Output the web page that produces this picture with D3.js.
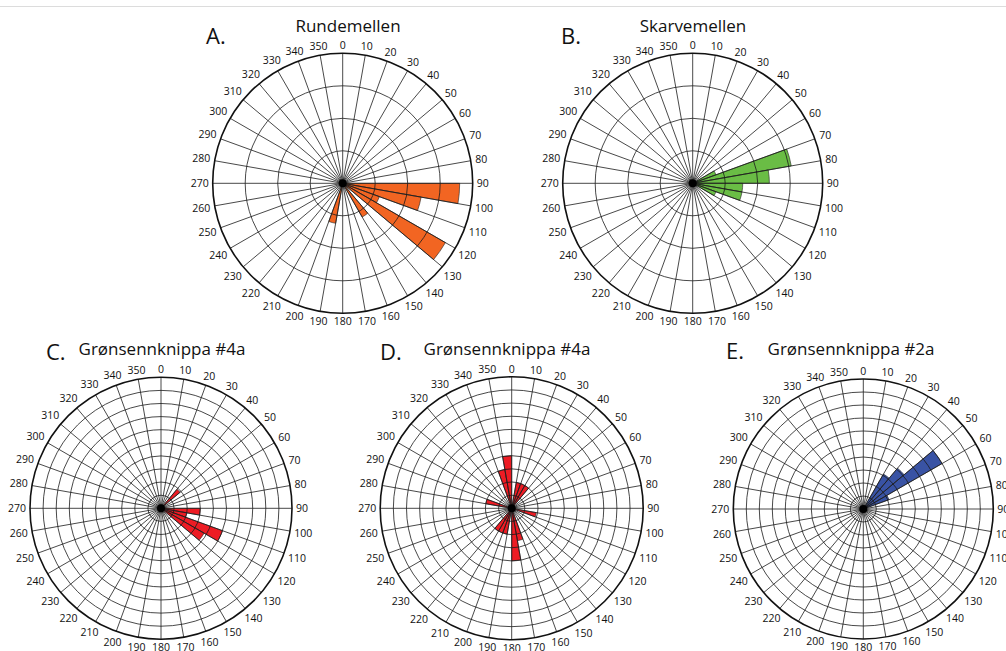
<!DOCTYPE html>
<html>
<head>
<meta charset="utf-8">
<script src="https://cdn.jsdelivr.net/npm/d3@7"></script>
<style>
  html, body { margin: 0; padding: 0; background: #fff; }
  svg { display: block; }
  text { font-family: "Open Sans", "Noto Sans", sans-serif; fill: #111; }
</style>
</head>
<body>
<svg id="chart" width="1006" height="651"></svg>
<script>
// ---------- data ----------
const titles = ["Rundemellen", "Skarvemellen", "Grønsennknippa #4a", "Grønsennknippa #4a", "Grønsennknippa #2a"];
const panelLetters = ["A.", "B.", "C.", "D.", "E."];
const ringCounts = [4, 4, 10, 10, 10];
const angleLabels = [0, 10, 20, 30, 40, 50, 60, 70, 80, 90, 100, 110, 120, 130, 140, 150, 160, 170,
                     180, 190, 200, 210, 220, 230, 240, 250, 260, 270, 280, 290, 300, 310, 320, 330, 340, 350];
const binWidth = 10;

// bin start azimuths (degrees) and bar lengths (in ring units)
const binsA = [90, 100, 110, 120, 140, 190];
const valuesA = [3.6, 2.45, 1.2, 3.65, 1.2, 1.25];
const binsB = [60, 70, 80, 90, 100, 110];
const valuesB = [0.76, 3.08, 2.36, 1.54, 1.54, 0.76];
const binsC = [40, 90, 100, 110, 120];
const valuesC = [1.9, 3, 2, 5, 3.8];
const binsD = [10, 20, 30, 100, 160, 170, 190, 200, 210, 280, 340, 350];
const valuesD = [2, 2, 2, 1.9, 2.5, 4, 2, 2, 2, 2, 3, 4];
const binsE = [30, 40, 50, 60];
const valuesE = [3.1, 4.1, 7, 2.1];

const allBins = [binsA, binsB, binsC, binsD, binsE];
const allValues = [valuesA, valuesB, valuesC, valuesD, valuesE];
const colors = ["#f26522", "#6abd45", "#ed1c24", "#ed1c24", "#3953a4"];

// ---------- layout ----------
const centers = [[342.7, 183.3], [692.7, 183.3], [161, 508.3], [511.7, 508.3], [863.3, 509]];
const radii = [130, 130, 131, 131.5, 130];
const titlePos = [[348, 32], [693, 32], [162, 355], [507, 355], [851, 355]];
const letterPos = [[206, 44], [561, 44], [46, 360], [380, 360], [726, 359]];

const svg = d3.select("#chart");
svg.append("rect").attr("width", 1006).attr("height", 651).attr("fill", "#fff");
svg.append("line").attr("x1", 0).attr("x2", 1006).attr("y1", 6.5).attr("y2", 6.5)
   .attr("stroke", "#dcdcdc").attr("stroke-width", 1);

const rad = d => d * Math.PI / 180;

titles.forEach((title, i) => {
  const [cx, cy] = centers[i];
  const R = radii[i];
  const g = svg.append("g").attr("transform", `translate(${cx},${cy})`);
  const r = d3.scaleLinear().domain([0, ringCounts[i]]).range([0, R]);
  const a = d3.scaleLinear().domain([0, 360]).range([0, 2 * Math.PI]);

  // bars
  const arc = d3.arc()
    .innerRadius(0)
    .outerRadius(d => r(d.v))
    .startAngle(d => a(d.b))
    .endAngle(d => a(d.b + binWidth));
  const data = allBins[i].map((b, k) => ({ b, v: allValues[i][k] }));
  g.selectAll("path.bar").data(data).join("path")
    .attr("class", "bar")
    .attr("d", arc)
    .attr("fill", colors[i])
    .attr("stroke", "#222")
    .attr("stroke-width", 0.6);

  // rings
  const rings = d3.range(1, ringCounts[i]);
  g.selectAll("circle.ring").data(rings).join("circle")
    .attr("class", "ring")
    .attr("r", d => r(d))
    .attr("fill", "none")
    .attr("stroke", "#1a1a1a")
    .attr("stroke-width", 0.8);

  // spokes
  g.selectAll("line.spoke").data(angleLabels).join("line")
    .attr("class", "spoke")
    .attr("x1", 0).attr("y1", 0)
    .attr("x2", d => R * Math.sin(rad(d)))
    .attr("y2", d => -R * Math.cos(rad(d)))
    .attr("stroke", "#1a1a1a")
    .attr("stroke-width", 0.8);

  // outer circle
  g.append("circle").attr("r", R).attr("fill", "none")
    .attr("stroke", "#111").attr("stroke-width", 1.6);

  // center dot
  g.append("circle").attr("r", 4).attr("fill", "#000");

  // angle labels
  g.selectAll("text.lab").data(angleLabels).join("text")
    .attr("class", "lab")
    .attr("font-size", 10.5)
    .attr("text-anchor", "middle")
    .attr("dominant-baseline", "central")
    .text(d => d)
    .each(function (d) {
      const w = this.getComputedTextLength();
      const h = 8;
      const s = Math.sin(rad(d)), c = Math.cos(rad(d));
      const off = R + 4 + Math.abs(s) * w / 2 + Math.abs(c) * h / 2;
      d3.select(this).attr("x", off * s).attr("y", -off * c);
    });

  // title
  svg.append("text")
    .attr("x", titlePos[i][0]).attr("y", titlePos[i][1])
    .attr("text-anchor", "middle")
    .attr("font-size", 17)
    .text(title);

  // panel letter
  svg.append("text")
    .attr("x", letterPos[i][0]).attr("y", letterPos[i][1])
    .attr("font-size", 22)
    .text(panelLetters[i]);
});
</script>
</body>
</html>
